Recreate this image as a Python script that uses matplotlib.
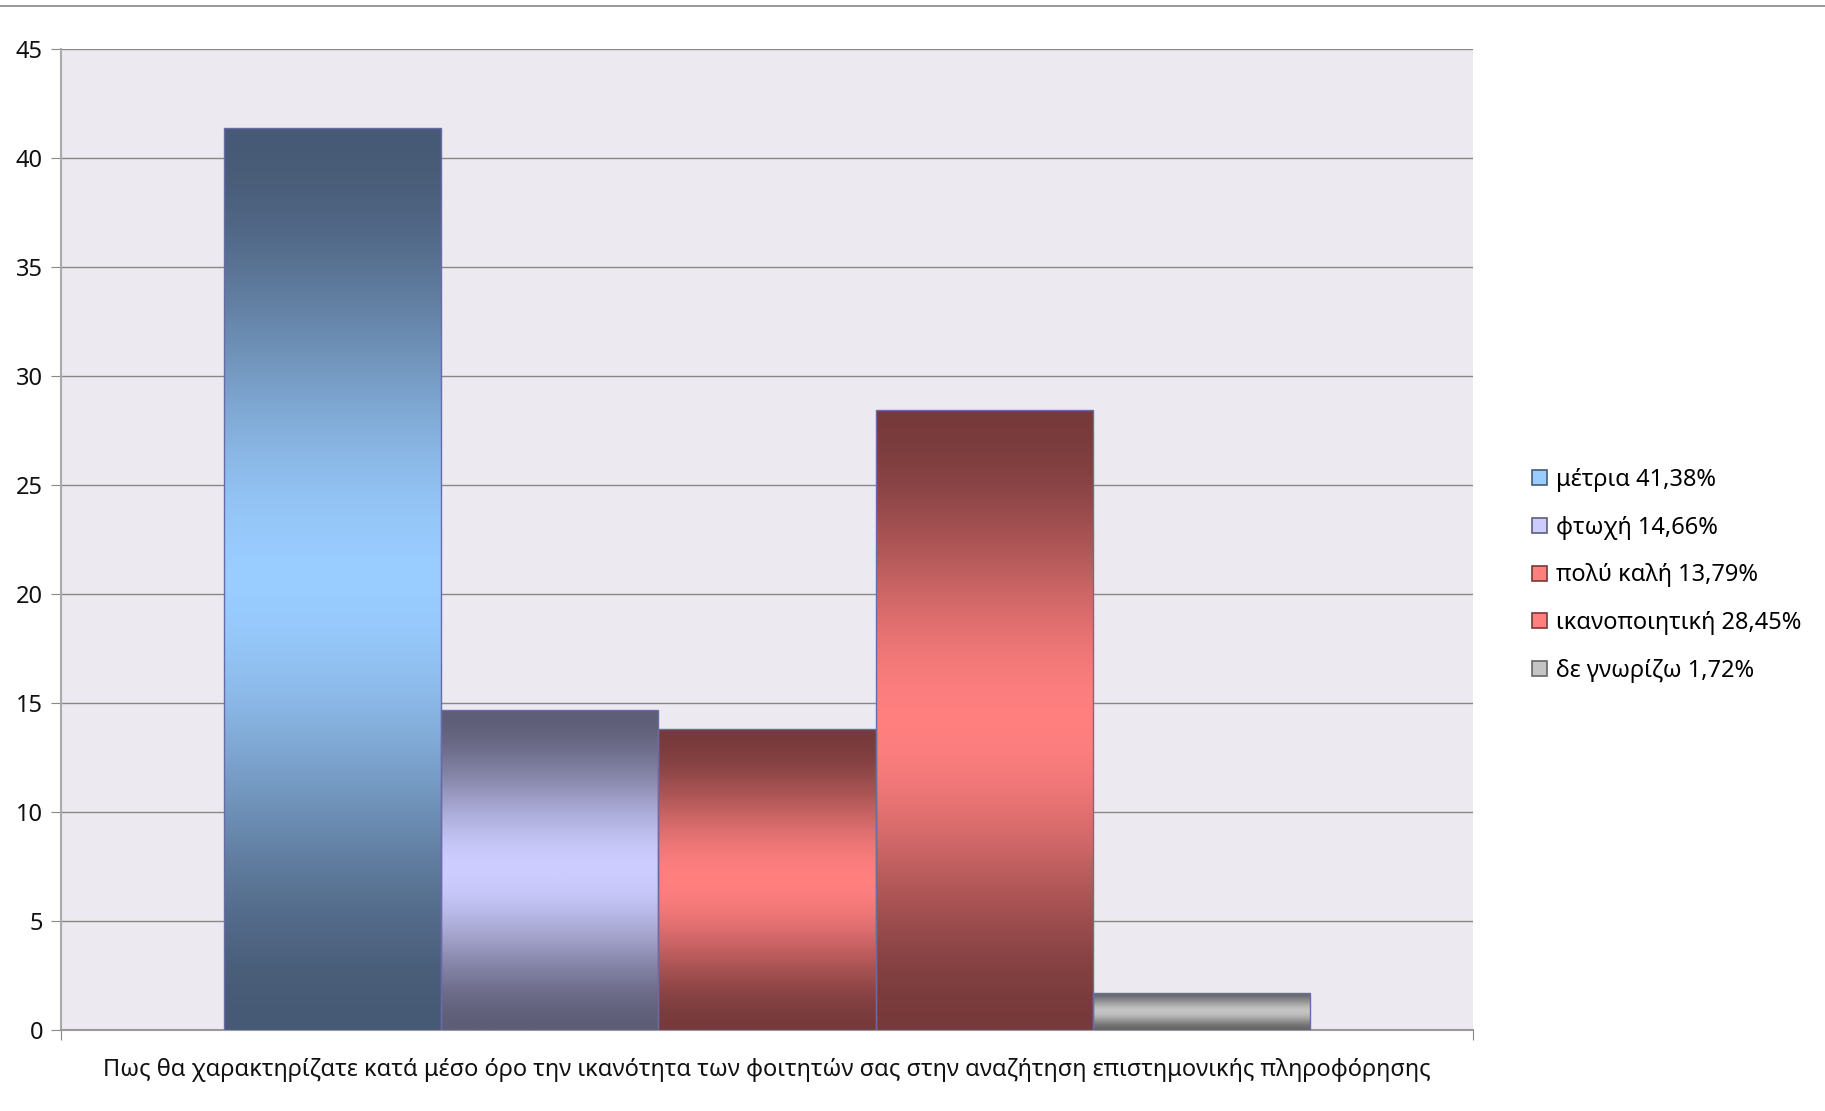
import matplotlib
matplotlib.use("Agg")
import matplotlib.pyplot as plt
import numpy as np
from matplotlib.colors import LinearSegmentedColormap
from matplotlib.patches import Rectangle, Patch
from matplotlib.lines import Line2D

plt.rcParams["font.family"] = ["Noto Sans", "DejaVu Sans"]

labels = ["μέτρια 41,38%", "φτωχή 14,66%", "πολύ καλή 13,79%", "ικανοποιητική 28,45%", "δε γνωρίζω 1,72%"]
values = [41.38, 14.66, 13.79, 28.45, 1.72]
dark = ["#475a75", "#5e5e78", "#773a3b", "#773a3b", "#666666"]
light = ["#99ccff", "#ccccff", "#ff7f7f", "#ff7f7f", "#c4c4c4"]
xlabel = "Πως θα χαρακτηρίζατε κατά μέσο όρο την ικανότητα των φοιτητών σας στην αναζήτηση επιστημονικής πληροφόρησης"
yticks = [0, 5, 10, 15, 20, 25, 30, 35, 40, 45]

fig = plt.figure(figsize=(18.25, 11.11), dpi=100)
ax = fig.add_axes([0.0334, 0.0729, 0.7737, 0.883])
ax.set_facecolor("#eceaf0")

# dark at the ends, light in the middle, smooth shoulders like the original fill
t = 1 - np.abs(np.linspace(-1, 1, 256))
grad = (3 * t**2 - 2 * t**3).reshape(-1, 1)
for i, (v, d, l) in enumerate(zip(values, dark, light)):
    cmap = LinearSegmentedColormap.from_list(f"g{i}", [d, l])
    im = ax.imshow(grad, cmap=cmap, aspect="auto", extent=[i - 0.5, i + 0.5, 0, v],
                   origin="lower", zorder=3, interpolation="bilinear", vmin=0, vmax=1)
    rect = Rectangle((i - 0.5, 0), 1, v, facecolor="none", edgecolor="#6a6aa8", lw=1.0, zorder=4)
    ax.add_patch(rect)
    im.set_clip_path(rect)

ax.set_xlim(-1.25, 5.25)
ax.set_ylim(0, 45)
ax.set_yticks(yticks)
ax.set_yticklabels([str(t) for t in yticks], fontsize=17, color="#111111")
ax.yaxis.grid(True, color="#888888", lw=1.0, zorder=1)
ax.set_axisbelow(True)
ax.set_xticks([-1.25, 5.25])
ax.set_xticklabels(["", ""])
ax.tick_params(axis="y", length=7, color="#888888", pad=6)
ax.tick_params(axis="x", length=7, color="#888888")
for s in ("top", "right"):
    ax.spines[s].set_visible(False)
ax.spines["left"].set_color("#aaaaaa")
ax.spines["left"].set_linewidth(1.5)
ax.spines["bottom"].set_color("#999999")
ax.spines["bottom"].set_linewidth(1.5)
ax.set_xlabel(xlabel, fontsize=17, labelpad=10, color="#111111")

handles = [Patch(facecolor=l, edgecolor=d, lw=1.2) for d, l in zip(dark, light)]
fig.legend(handles, labels, loc="center left", bbox_to_anchor=(0.828, 0.482), frameon=False,
           fontsize=17, handlelength=0.6, handleheight=0.6, handletextpad=0.4, labelspacing=1.0)

fig.add_artist(Line2D([0, 1], [0.9946, 0.9946], color="#888888", lw=1.2, transform=fig.transFigure))

fig.savefig("out.png", dpi=100, facecolor="white")
